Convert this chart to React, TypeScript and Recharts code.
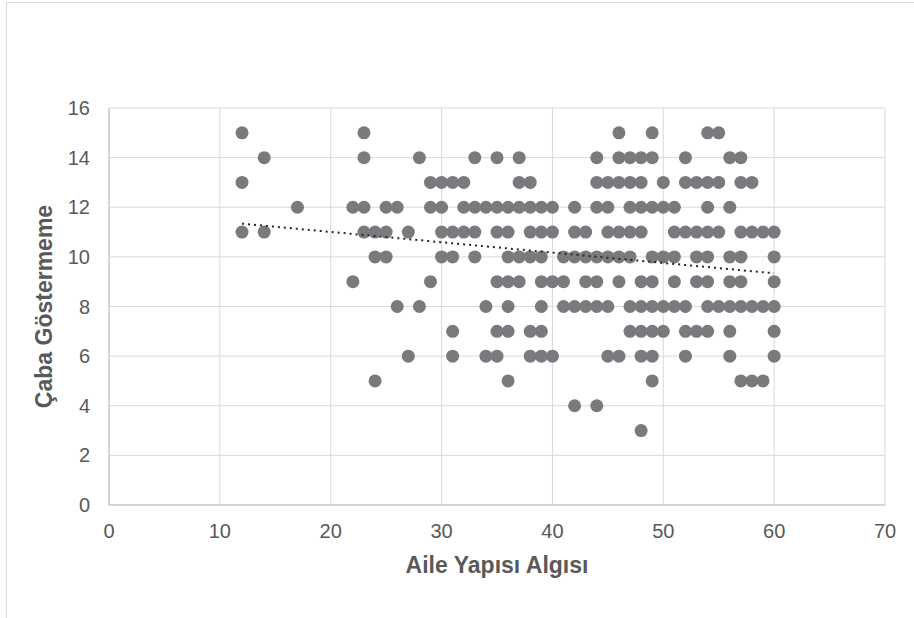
import { ScatterChart, Scatter, XAxis, YAxis, CartesianGrid } from "recharts"

// x values (Aile Yapısı Algısı) found at each y level (Çaba Göstermeme)
const yLevels = [15, 14, 13, 12, 11, 10, 9, 8, 7, 6, 5, 4, 3]
const xAt15 = [12, 23, 46, 49, 54, 55]
const xAt14 = [14, 23, 28, 33, 35, 37, 44, 46, 47, 48, 49, 52, 56, 57]
const xAt13 = [12, 29, 30, 31, 32, 37, 38, 44, 45, 46, 47, 48, 50, 52, 53, 54, 55, 57, 58]
const xAt12 = [17, 22, 23, 25, 26, 29, 30, 32, 33, 34, 35, 36, 37, 38, 39, 40, 42, 44, 45, 47, 48, 49, 50, 51, 54, 56]
const xAt11 = [12, 14, 23, 24, 25, 27, 30, 31, 32, 33, 35, 36, 38, 39, 40, 42, 43, 45, 46, 47, 48, 51, 52, 53, 54, 55, 57, 58, 59, 60]
const xAt10 = [24, 25, 30, 31, 33, 36, 37, 38, 39, 41, 42, 43, 44, 45, 46, 47, 49, 50, 51, 53, 54, 56, 57, 60]
const xAt9 = [22, 29, 35, 36, 37, 39, 40, 41, 43, 44, 46, 48, 49, 51, 53, 54, 56, 57, 60]
const xAt8 = [26, 28, 34, 36, 39, 41, 42, 43, 44, 45, 47, 48, 49, 50, 51, 52, 54, 55, 56, 57, 58, 59, 60]
const xAt7 = [31, 35, 36, 38, 39, 47, 48, 49, 50, 52, 53, 54, 56, 60]
const xAt6 = [27, 31, 34, 35, 38, 39, 40, 45, 46, 48, 49, 52, 56, 60]
const xAt5 = [24, 36, 49, 57, 58, 59]
const xAt4 = [42, 44]
const xAt3 = [48]
const rows = [xAt15, xAt14, xAt13, xAt12, xAt11, xAt10, xAt9, xAt8, xAt7, xAt6, xAt5, xAt4, xAt3]

const xTicks = [0, 10, 20, 30, 40, 50, 60, 70]
const yTicks = [0, 2, 4, 6, 8, 10, 12, 14, 16]

const points = yLevels.flatMap((y, i) => rows[i].map((x) => ({ x, y })))

// linear trend (least squares), drawn from min x to max x like Excel does
function trendLine(data: { x: number; y: number }[]) {
  const n = data.length
  let sx = 0, sy = 0, sxy = 0, sxx = 0
  data.forEach((p) => {
    sx += p.x
    sy += p.y
    sxy += p.x * p.y
    sxx += p.x * p.x
  })
  const slope = (n * sxy - sx * sy) / (n * sxx - sx * sx)
  const icpt = (sy - slope * sx) / n
  const xs = data.map((p) => p.x)
  const lo = Math.min(...xs)
  const hi = Math.max(...xs)
  return [
    { x: lo, y: icpt + slope * lo },
    { x: hi, y: icpt + slope * hi },
  ]
}

const trend = trendLine(points)

const GRAY = "#595959"

export default function App() {
  return (
    <div
      style={{
        position: "absolute",
        left: 0,
        top: 0,
        width: 914,
        height: 618,
        overflow: "hidden",
        background: "#fff",
        fontFamily: "'Liberation Sans', Arial, sans-serif",
      }}
    >
      {/* outer chart frame */}
      <div
        style={{
          position: "absolute",
          left: 6,
          top: 2,
          width: 1000,
          height: 1000,
          borderLeft: "1px solid #d9d9d9",
          borderTop: "1px solid #d9d9d9",
        }}
      />
      <div style={{ position: "absolute", left: 0, top: 0 }}>
        <ScatterChart
          width={914}
          height={618}
          margin={{ top: 108, right: 29, bottom: 38, left: 30 }}
        >
          <CartesianGrid stroke="#d9d9d9" />
          <XAxis
            type="number"
            dataKey="x"
            domain={[0, 70]}
            ticks={xTicks}
            interval={0}
            height={75}
            tickLine={false}
            tickMargin={13}
            axisLine={{ stroke: "#bfbfbf" }}
            tick={{ fill: GRAY, fontSize: 20 }}
            label={{
              value: "Aile Yapısı Algısı",
              position: "insideBottom",
              offset: 7,
              fill: GRAY,
              fontSize: 23,
              fontWeight: "bold",
            }}
          />
          <YAxis
            type="number"
            dataKey="y"
            domain={[0, 16]}
            ticks={yTicks}
            interval={0}
            width={79}
            tickLine={false}
            tickMargin={13}
            axisLine={{ stroke: "#bfbfbf" }}
            tick={{ fill: GRAY, fontSize: 20 }}
            label={{
              value: "Çaba Göstermeme",
              angle: -90,
              position: "insideLeft",
              offset: 14,
              fill: GRAY,
              fontSize: 23,
              fontWeight: "bold",
              style: { textAnchor: "middle" },
            }}
          />
          <Scatter
            data={points}
            isAnimationActive={false}
            shape={(p: any) => <circle cx={p.cx} cy={p.cy} r={6.5} fill="#797a7e" />}
          />
          <Scatter
            data={trend}
            isAnimationActive={false}
            line={{ stroke: "#262626", strokeWidth: 2, strokeDasharray: "2 4" }}
            shape={() => <g />}
          />
        </ScatterChart>
      </div>
    </div>
  )
}
